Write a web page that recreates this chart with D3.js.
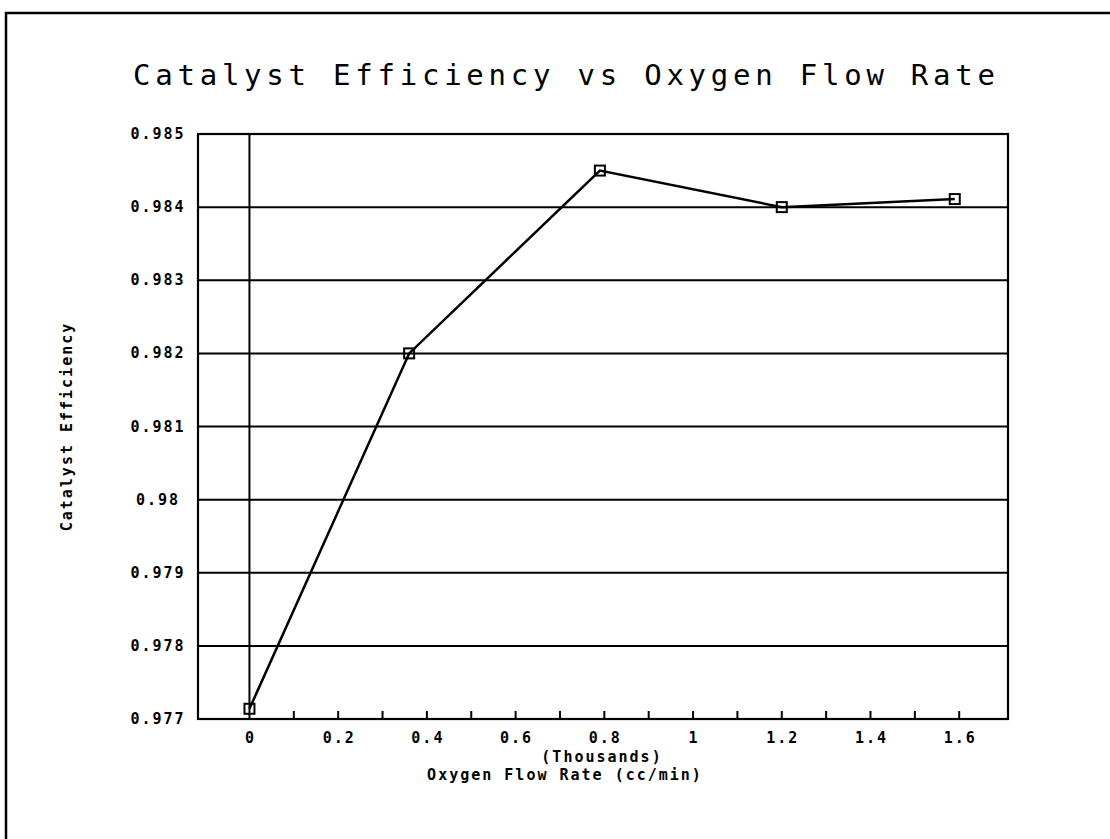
<!DOCTYPE html>
<html>
<head>
<meta charset="utf-8">
<script src="https://cdn.jsdelivr.net/npm/d3@7"></script>
<style>
  html, body { margin: 0; padding: 0; background: #fff; }
  svg { display: block; }
  .lbl { font-family: "DejaVu Sans Mono", "Liberation Mono", monospace; font-weight: bold; font-size: 15px; letter-spacing: 2px; fill: #000; }
  .title { font-family: "DejaVu Sans Mono", "Liberation Mono", monospace; font-weight: normal; font-size: 29px; fill: #000; }
</style>
</head>
<body>
<script>
// Oxygen flow rate (thousands of cc/min) and measured catalyst efficiency
const flowRate   = [0, 0.36, 0.79, 1.2, 1.59];
const efficiency = [0.97714, 0.982, 0.9845, 0.984, 0.98411];

const yTicks = [0.977, 0.978, 0.979, 0.98, 0.981, 0.982, 0.983, 0.984, 0.985];
const xMinorTicks = [0.1, 0.2, 0.3, 0.4, 0.5, 0.6, 0.7, 0.8, 0.9, 1.0, 1.1, 1.2, 1.3, 1.4, 1.5, 1.6];
const xLabelTicks = [0, 0.2, 0.4, 0.6, 0.8, 1, 1.2, 1.4, 1.6];

const W = 1110, H = 839;
const plot = { left: 198, right: 1008, top: 134, bottom: 719 };

const svg = d3.select("body").append("svg").attr("width", W).attr("height", H);

// page border (runs off the right and bottom edges)
svg.append("path")
  .attr("d", `M6,${H + 5} L6,13 L${W + 5},13`)
  .attr("fill", "none").attr("stroke", "#000").attr("stroke-width", 2.5);

const x = d3.scaleLinear().domain([-0.116, 1.71]).range([plot.left, plot.right]);
const y = d3.scaleLinear().domain([0.977, 0.985]).range([plot.bottom, plot.top]);

// title
svg.append("text").attr("class", "title")
  .attr("x", 133).attr("y", 85)
  .attr("textLength", 862).attr("lengthAdjust", "spacing")
  .text("Catalyst Efficiency vs Oxygen Flow Rate");

// horizontal grid lines
svg.append("g").selectAll("line").data(yTicks.slice(1, -1)).join("line")
  .attr("x1", plot.left).attr("x2", plot.right)
  .attr("y1", d => y(d)).attr("y2", d => y(d))
  .attr("stroke", "#000").attr("stroke-width", 2);

// vertical line at zero flow
svg.append("line")
  .attr("x1", x(0)).attr("x2", x(0))
  .attr("y1", plot.top).attr("y2", plot.bottom)
  .attr("stroke", "#000").attr("stroke-width", 2);

// plot frame
svg.append("rect")
  .attr("x", plot.left).attr("y", plot.top)
  .attr("width", plot.right - plot.left).attr("height", plot.bottom - plot.top)
  .attr("fill", "none").attr("stroke", "#000").attr("stroke-width", 2.2);

// x-axis ticks pointing into the plot
svg.append("g").selectAll("line").data(xMinorTicks).join("line")
  .attr("x1", d => x(d)).attr("x2", d => x(d))
  .attr("y1", plot.bottom).attr("y2", plot.bottom - 8)
  .attr("stroke", "#000").attr("stroke-width", 2);

// y tick labels
const fmtY = d3.format("");
svg.append("g").selectAll("text").data(yTicks).join("text")
  .attr("class", "lbl")
  .attr("x", 158).attr("y", d => y(d) + 5)
  .attr("text-anchor", "middle")
  .text(d => fmtY(+d.toFixed(3)));

// x tick labels
svg.append("g").selectAll("text").data(xLabelTicks).join("text")
  .attr("class", "lbl")
  .attr("x", d => x(d) + 1).attr("y", 743)
  .attr("text-anchor", "middle")
  .text(d => fmtY(+d.toFixed(1)));

// axis titles
svg.append("text").attr("class", "lbl")
  .attr("x", 602).attr("y", 762).attr("text-anchor", "middle")
  .text("(Thousands)");
svg.append("text").attr("class", "lbl")
  .attr("x", 565).attr("y", 780).attr("text-anchor", "middle")
  .text("Oxygen Flow Rate (cc/min)");
svg.append("text").attr("class", "lbl")
  .attr("transform", `translate(72,${(plot.top + plot.bottom) / 2}) rotate(-90)`)
  .attr("text-anchor", "middle")
  .text("Catalyst Efficiency");

// data line
const pts = flowRate.map((f, i) => [f, efficiency[i]]);
svg.append("path")
  .datum(pts)
  .attr("d", d3.line().x(d => x(d[0])).y(d => y(d[1])))
  .attr("fill", "none").attr("stroke", "#000").attr("stroke-width", 2.5);

// square markers
svg.append("g").selectAll("rect").data(pts).join("rect")
  .attr("x", d => x(d[0]) - 5).attr("y", d => y(d[1]) - 5)
  .attr("width", 10).attr("height", 10)
  .attr("fill", "none").attr("stroke", "#000").attr("stroke-width", 2);
</script>
</body>
</html>
